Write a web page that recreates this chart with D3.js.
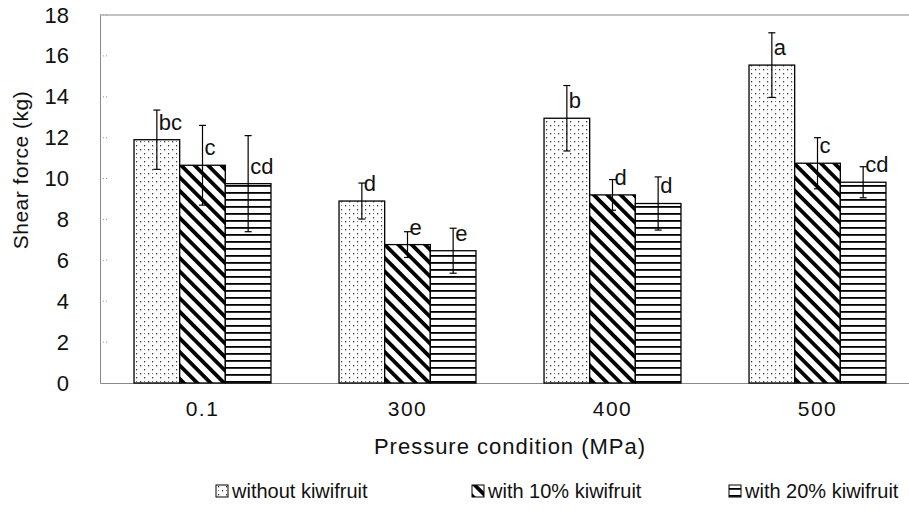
<!DOCTYPE html>
<html>
<head>
<meta charset="utf-8">
<script src="https://cdn.jsdelivr.net/npm/d3@7"></script>
<style>
  html, body { margin: 0; padding: 0; background: #fff; }
  svg { display: block; font-family: "Liberation Sans", Arial, sans-serif; }
</style>
</head>
<body>
<svg id="chart" width="909" height="511"></svg>
<script>
// ---- data ----
const categories = ["0.1", "300", "400", "500"];
const seriesNames = ["without kiwifruit", "with 10% kiwifruit", "with 20% kiwifruit"];
const withoutKiwi = [11.9, 8.9, 12.95, 15.55];
const kiwi10 = [10.65, 6.77, 9.2, 10.75];
const kiwi20 = [9.75, 6.47, 8.78, 9.82];
const errWithout = [1.45, 0.88, 1.6, 1.58];
const err10 = [1.95, 0.63, 0.75, 1.25];
const err20 = [2.35, 1.1, 1.3, 0.76];
const lblWithout = ["bc", "d", "b", "a"];
const lbl10 = ["c", "e", "d", "c"];
const lbl20 = ["cd", "e", "d", "cd"];
const yTicks = [0, 2, 4, 6, 8, 10, 12, 14, 16, 18];

const seriesValues = [withoutKiwi, kiwi10, kiwi20];
const seriesErr = [errWithout, err10, err20];
const seriesLbl = [lblWithout, lbl10, lbl20];
const patternIds = ["pDots", "pDiag", "pHoriz"];

const svg = d3.select("#chart");
const W = 909, H = 511;
const mLeft = 100, mTop = 15, mBottom = 383, mRight = 920;

// ---- patterns ----
const defs = svg.append("defs");
const pd = defs.append("pattern").attr("id", "pDots").attr("patternUnits", "userSpaceOnUse")
  .attr("width", 8).attr("height", 8);
pd.append("rect").attr("width", 8).attr("height", 8).attr("fill", "#fff");
pd.append("rect").attr("x", 2).attr("y", 1).attr("width", 1.2).attr("height", 1.4).attr("fill", "#333");
pd.append("rect").attr("x", 6).attr("y", 5).attr("width", 1.2).attr("height", 1.4).attr("fill", "#333");
pd.append("rect").attr("x", 2).attr("y", 5).attr("width", 1).attr("height", 1).attr("fill", "#777");

const pg = defs.append("pattern").attr("id", "pDiag").attr("patternUnits", "userSpaceOnUse")
  .attr("width", 9.5).attr("height", 9.5).attr("patternTransform", "rotate(-45)");
pg.append("rect").attr("width", 9.5).attr("height", 9.5).attr("fill", "#fff");
pg.append("rect").attr("x", 0).attr("y", 0).attr("width", 3.8).attr("height", 9.5).attr("fill", "#000");

const ph = defs.append("pattern").attr("id", "pHoriz").attr("patternUnits", "userSpaceOnUse")
  .attr("width", 8).attr("height", 7);
ph.append("rect").attr("width", 8).attr("height", 7).attr("fill", "#fff");
ph.append("rect").attr("x", 0).attr("y", 3).attr("width", 8).attr("height", 1.8).attr("fill", "#000");

// ---- scales ----
const x0 = d3.scaleBand().domain(categories).range([mLeft, mRight]).paddingInner(0.332).paddingOuter(0.166);
const x1 = d3.scaleBand().domain(d3.range(seriesNames.length)).range([0, x0.bandwidth()]).padding(0);
const y = d3.scaleLinear().domain([0, 18]).range([mBottom, mTop]);

// ---- frame ----
svg.append("line").attr("x1", mLeft).attr("x2", W).attr("y1", mTop).attr("y2", mTop)
  .attr("stroke", "#888").attr("stroke-width", 1);

// y axis
const yAxis = d3.axisLeft(y).tickValues(yTicks).tickSize(0).tickPadding(31);
const gy = svg.append("g").attr("transform", `translate(${mLeft},0)`).call(yAxis);
gy.select(".domain").attr("stroke", "#888");
gy.selectAll("text").attr("font-size", 22).attr("fill", "#111")
  .attr("font-family", "Liberation Sans, Arial, sans-serif");

// faint grid stubs
svg.append("g").selectAll("line").data(yTicks.filter(d => d > 0)).join("line")
  .attr("x1", mLeft).attr("x2", mLeft + 8).attr("y1", d => y(d)).attr("y2", d => y(d))
  .attr("stroke", "#999").attr("stroke-dasharray", "1,2");

// x axis
const xAxis = d3.axisBottom(x0).tickSize(0).tickPadding(18);
const gx = svg.append("g").attr("transform", `translate(0,${mBottom})`).call(xAxis);
gx.select(".domain").attr("stroke", "#888");
gx.selectAll("text").attr("font-size", 21).attr("fill", "#111")
  .attr("font-family", "Liberation Sans, Arial, sans-serif").attr("letter-spacing", 1.5);

// ---- bars ----
const groups = svg.append("g").selectAll("g").data(categories).join("g")
  .attr("transform", d => `translate(${x0(d)},0)`);

groups.each(function (cat, ci) {
  const g = d3.select(this);
  seriesNames.forEach((s, si) => {
    const v = seriesValues[si][ci];
    const e = seriesErr[si][ci];
    const bx = x1(si);
    const bw = x1.bandwidth();
    g.append("rect").attr("x", bx).attr("y", y(v)).attr("width", bw).attr("height", y(0) - y(v))
      .attr("fill", `url(#${patternIds[si]})`).attr("stroke", "#000").attr("stroke-width", 1.3);
    const cx = bx + bw / 2;
    g.append("line").attr("x1", cx).attr("x2", cx).attr("y1", y(v + e)).attr("y2", y(v - e))
      .attr("stroke", "#000").attr("stroke-width", 1.2);
    [v + e, v - e].forEach(t => {
      g.append("line").attr("x1", cx - 3.5).attr("x2", cx + 3.5).attr("y1", y(t)).attr("y2", y(t))
        .attr("stroke", "#000").attr("stroke-width", 1.2);
    });
    g.append("text").attr("x", cx + 2).attr("y", y(v) - 10)
      .attr("font-size", 22).attr("fill", "#111").text(seriesLbl[si][ci]);
  });
});

// ---- axis titles ----
svg.append("text").attr("transform", `translate(28,170) rotate(-90)`).attr("text-anchor", "middle")
  .attr("font-size", 21).attr("letter-spacing", 0.5).attr("fill", "#111").text("Shear force (kg)");
svg.append("text").attr("x", 510).attr("y", 454).attr("text-anchor", "middle")
  .attr("font-size", 22).attr("letter-spacing", 1).attr("fill", "#111").text("Pressure condition (MPa)");

// ---- legend ----
const legendX = [216, 472, 729];
const leg = svg.append("g").selectAll("g").data(seriesNames).join("g")
  .attr("transform", (d, i) => `translate(${legendX[i]},485)`);
leg.append("rect").attr("width", 12).attr("height", 12)
  .attr("fill", (d, i) => `url(#${patternIds[i]})`).attr("stroke", "#000").attr("stroke-width", 1);
leg.append("text").attr("x", 16).attr("y", 13).attr("font-size", 20).attr("fill", "#111").text(d => d);
</script>
</body>
</html>
